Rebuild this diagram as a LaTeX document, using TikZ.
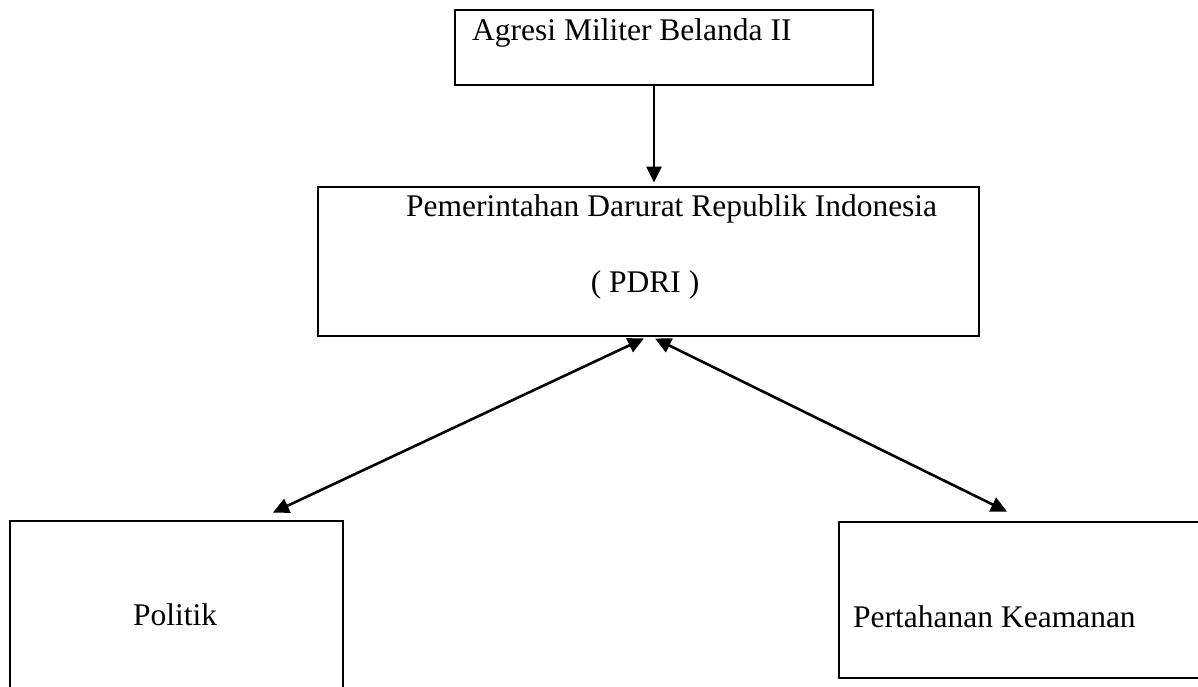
\documentclass[tikz,border=0pt]{standalone}
\usepackage{fontspec}
\setmainfont{Liberation Serif}
\usetikzlibrary{arrows.meta,calc}
\begin{document}
\begin{tikzpicture}[x=1pt,y=-1pt,
  box/.style={draw,line width=2.9pt,rectangle,inner sep=0pt},
  lbl/.style={inner sep=0pt,font=\fontsize{31.5}{37}\selectfont},
  conn/.style={line width=2.6pt},
  tip/.tip={Triangle[length=16pt,width=15pt]}]
\path[use as bounding box,clip] (0,0) rectangle (1198,686);
\fill[white] (0,0) rectangle (1198,686);
% boxes
\node[box,minimum width=418pt,minimum height=75pt] (top) at (664,47.5) {};
\node[box,minimum width=661pt,minimum height=149pt] (mid) at (648.5,261.5) {};
\node[box,minimum width=333pt,minimum height=199pt] (pol) at (176.5,620.5) {};
\node[box,minimum width=391pt,minimum height=156pt] (per) at (1034.5,600) {};
% labels
\node[lbl,anchor=base west] (ttop) at (472,40) {Agresi Militer Belanda II};
\node[lbl,anchor=base west] (tmid) at (406,216) {Pemerintahan Darurat Republik Indonesia};
\node[lbl,anchor=base] (tpdri) at (645,292) {( PDRI )};
\node[lbl,anchor=base west] (tpol) at (133,625) {Politik};
\node[lbl,anchor=base west] (tper) at (853,627) {Pertahanan Keamanan};
% connectors
\draw[conn,-tip] (top.south -| 654,0) -- ($(mid.north -| 654,0)+(0,-3)$);
\draw[conn,tip-tip] ($(mid.south -| 644,0)+(0,1)$) -- ($(pol.north -| 273,0)+(0,-7)$);
\draw[conn,tip-tip] ($(mid.south -| 655,0)+(0,1)$) -- ($(per.north -| 1007,0)+(0,-9)$);
\end{tikzpicture}
\end{document}
